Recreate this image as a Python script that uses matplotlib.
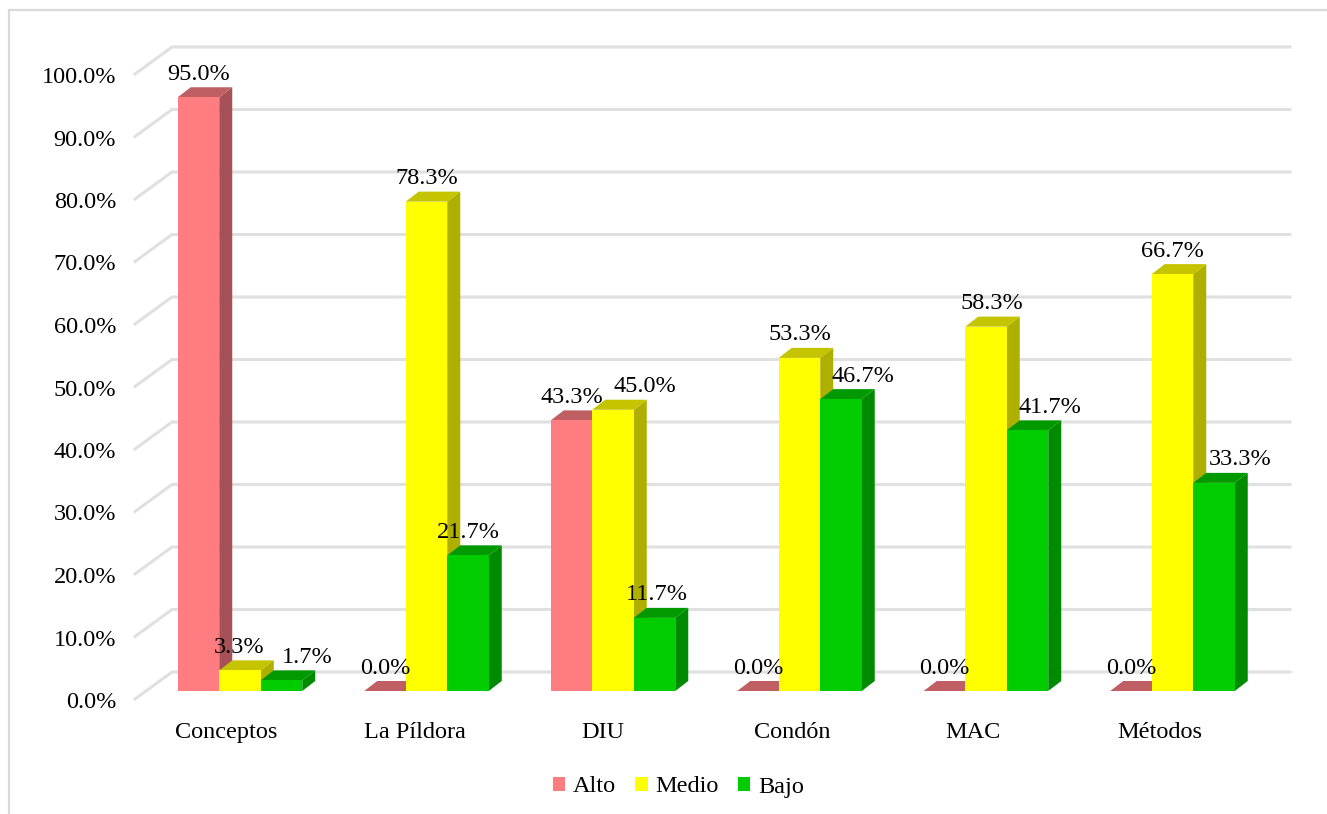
import matplotlib
matplotlib.use("Agg")
import matplotlib.pyplot as plt
from matplotlib.lines import Line2D
from matplotlib.patches import Patch, Polygon, Rectangle
from matplotlib.transforms import ScaledTranslation

categories = ["Conceptos", "La Píldora", "DIU", "Condón", "MAC", "Métodos"]
series_names = ["Alto", "Medio", "Bajo"]
alto = [95.0, 0.0, 43.3, 0.0, 0.0, 0.0]
medio = [3.3, 78.3, 45.0, 53.3, 58.3, 66.7]
bajo = [1.7, 21.7, 11.7, 46.7, 41.7, 33.3]
y_ticks = [0, 10, 20, 30, 40, 50, 60, 70, 80, 90, 100]

front_colors = ["#FF7C80", "#FFFF00", "#00CC00"]
side_colors = ["#A65155", "#AFAF00", "#008A00"]
top_colors = ["#C05F63", "#C4C400", "#009A00"]
grid_color = "#E0E0E0"
frame_color = "#D9D9D9"

# label nudges in pixels, as placed in the reference
label_dx = [[0, 0, 0, 0, 0, 0],
            [-1, 0, 32, 0, 6, 0],
            [26, 0, 2, 22, 22, 26]]
xlabel_dx = [-13.5, -12, -10, -7, -13, -13]

W, H = 1327, 814
fig = plt.figure(figsize=(W / 100, H / 100), dpi=100, facecolor="white")
plt.rcParams["font.family"] = ["Liberation Serif", "DejaVu Serif"]
FS = 17.5

PX_L, PX_R, PX_T, PX_B = 135, 1290, 47, 710
ax = fig.add_axes([PX_L / W, 1 - PX_B / H, (PX_R - PX_L) / W, (PX_B - PX_T) / H])
UX = 186.5
UY = 6.25
ax.set_xlim((PX_L - 240) / UX, (PX_R - 240) / UX)
ax.set_ylim(-19 / UY, 103.04)
ax.set_facecolor("none")
for s in ax.spines.values():
    s.set_visible(False)

# depth of the pseudo-3D bars, in axis units
dx = 13 / UX
dy = 10 / UY
bw = 41.5 / UX

# gridlines: floor/wall corner at the left, back wall to the right
x_left, x_right = ax.get_xlim()
x_corner = x_left + 37 / UX
for v in y_ticks:
    ax.plot([x_left, x_corner, x_right], [v - 8 / UY, v + 19 / UY, v + 19 / UY],
            color=grid_color, lw=2.2, zorder=1, solid_joinstyle="round",
            clip_on=False)

z = 2
for gi in range(len(categories)):
    for si, vals in enumerate([alto, medio, bajo]):
        v = vals[gi]
        x0 = gi + (si - 1) * bw - bw / 2
        x1 = x0 + bw
        if v > 0:
            ax.add_patch(Polygon([(x1, 0), (x1 + dx, dy), (x1 + dx, v + dy), (x1, v)],
                                 closed=True, fc=side_colors[si], ec="none", zorder=z))
        ax.add_patch(Polygon([(x0, v), (x0 + dx, v + dy), (x1 + dx, v + dy), (x1, v)],
                             closed=True, fc=top_colors[si], ec="none", zorder=z))
        if v > 0:
            ax.add_patch(Rectangle((x0, 0), bw, v, fc=front_colors[si], ec="none", zorder=z))
        z += 1

for si, vals in enumerate([alto, medio, bajo]):
    for gi, v in enumerate(vals):
        xc = gi + (si - 1) * bw
        ax.annotate(f"{v:.1f}%", (xc, v), xytext=(label_dx[si][gi], 23),
                    textcoords="offset pixels", ha="center", va="center",
                    fontsize=FS, color="black", zorder=100, annotation_clip=False)

ax.set_yticks(y_ticks)
ax.set_yticklabels([f"{v:.1f}%" for v in y_ticks], fontsize=FS, color="black")
ax.tick_params(axis="y", length=0, pad=13.5)
down = ScaledTranslation(0, -9 / 100, fig.dpi_scale_trans)
for lab in ax.get_yticklabels():
    lab.set_transform(lab.get_transform() + down)

ax.set_xticks(range(len(categories)))
ax.set_xticklabels(categories, fontsize=FS, color="black")
ax.tick_params(axis="x", length=0, pad=8.5)
for lab, d in zip(ax.get_xticklabels(), xlabel_dx):
    lab.set_transform(lab.get_transform() + ScaledTranslation(d / 100, 0, fig.dpi_scale_trans))

handles = [Patch(fc=c, ec="none") for c in front_colors]
fig.legend(handles, series_names, loc="center", bbox_to_anchor=(678.5 / W, 1 - 787 / H),
           ncol=3, frameon=False, fontsize=FS, handlelength=0.5, handleheight=0.5,
           handletextpad=0.33, columnspacing=0.8, borderpad=0, borderaxespad=0)

# outer chart frame: only its top and left edges fall inside the picture
fig.add_artist(Line2D([8.5 / W, 8.5 / W, 1], [0, 1 - 10 / H, 1 - 10 / H],
                      color=frame_color, lw=1.6, transform=fig.transFigure))

fig.savefig("out.png", dpi=100)
